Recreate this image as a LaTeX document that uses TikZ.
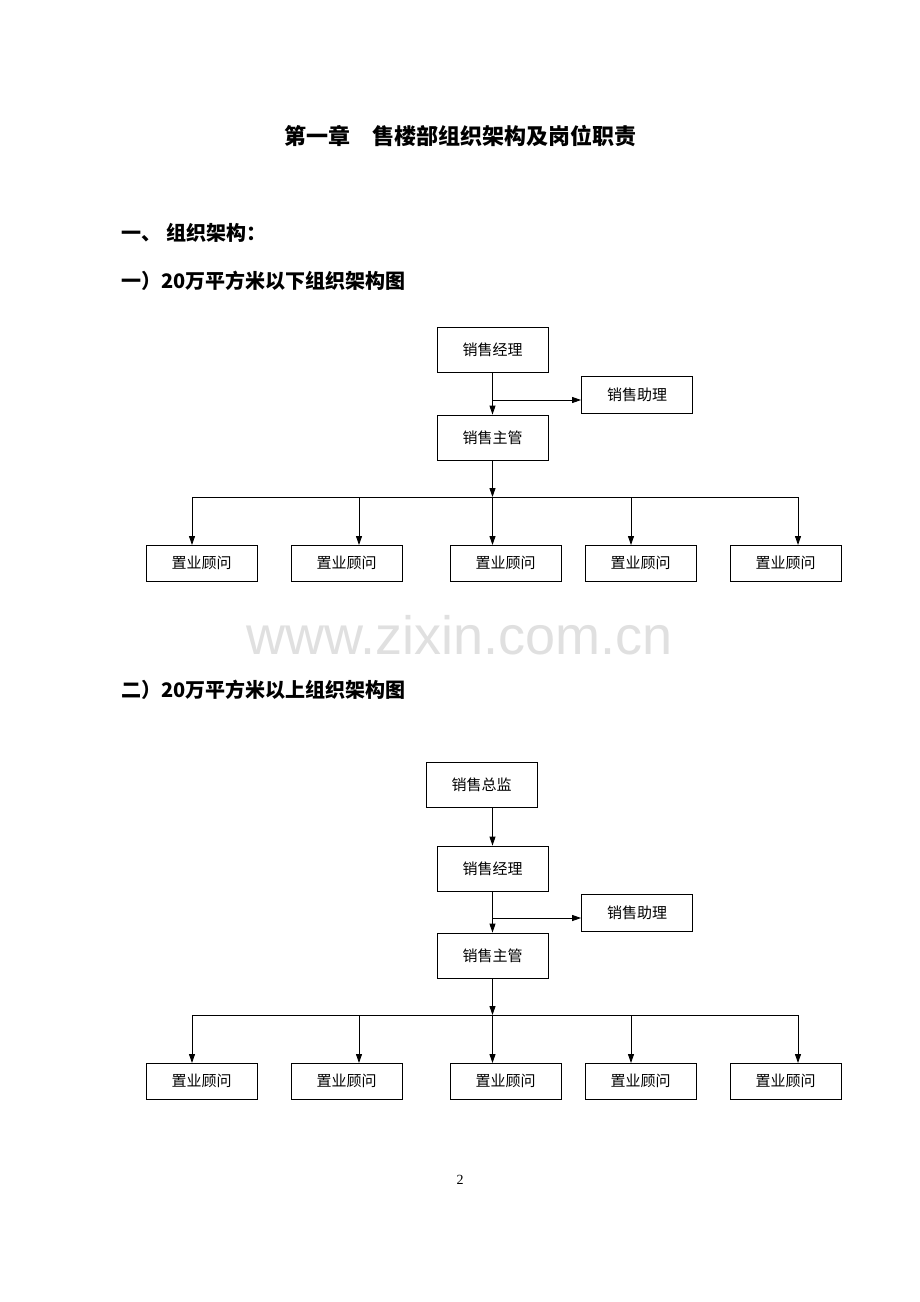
\documentclass[tikz,border=0pt]{standalone}
\usepackage{fontspec}
\setmainfont{Liberation Serif}
\newfontfamily\cjk{Noto Sans CJK SC}
\usetikzlibrary{arrows.meta}
\begin{document}
\begin{tikzpicture}[x=1pt,y=-1pt,
 box/.style={draw,line width=0.8pt,minimum width=111pt,minimum height=#1,inner sep=0pt,font=\cjk\fontsize{15}{15}\selectfont},
 box/.default=45pt,
 ar/.style={-{Triangle[length=9pt,width=6pt]},line width=0.9pt},
 ln/.style={line width=0.9pt},
 hd/.style={anchor=west,font=\cjk\bfseries\fontsize{20}{20}\selectfont}]
\fill[white] (0,0) rectangle (920,1302);
\useasboundingbox (0,0) rectangle (920,1302);
\node[font=\cjk\bfseries\fontsize{22}{22}\selectfont] (title) at (460,136) {第一章\quad 售楼部组织架构及岗位职责};
\node[hd] (h1) at (118,233) {一、\ 组织架构：};
\node[hd] (h2) at (118,281) {一）20万平方米以下组织架构图};
% chart 1
\node[box] (m1) at (492.5,350) {销售经理};
\node[box=37pt] (a1) at (637,394.5) {销售助理};
\node[box] (s1) at (492.5,437.5) {销售主管};
\coordinate (j1) at (492.5,400);
\draw[ar] (m1.south) -- (s1.north);
\draw[ar] (j1) -- (j1 -| a1.west);
\coordinate (b1) at (492.5,497);
\draw[ar] (s1.south) -- (b1);
\draw[ln] (192,497) coordinate (bl1) -- (798,497) coordinate (br1);
\foreach \x/\n in {201.5/p1,346.5/p2,505.5/p3,640.5/p4,785.5/p5}{
 \node[box=36pt] (\n) at (\x,563) {置业顾问};}
\foreach \x/\n in {192/p1,359/p2,492.5/p3,631/p4,798/p5}{
 \coordinate (t\n) at (\x,497);
 \draw[ar] (t\n) -- (\x,545);}
\node[font=\fontspec{Liberation Sans}\fontsize{54}{54}\selectfont,text=black!12] (wm) at (460,635) {www.zixin.com.cn};
\node[hd] (h3) at (118,690) {二）20万平方米以上组织架构图};
% chart 2
\node[box] (d2) at (481.5,784.5) {销售总监};
\node[box] (m2) at (492.5,868.5) {销售经理};
\node[box=37pt] (a2) at (637,912.5) {销售助理};
\node[box] (s2) at (492.5,955.5) {销售主管};
\draw[ar] (492.5,807) -- (m2.north);
\coordinate (j2) at (492.5,918);
\draw[ar] (m2.south) -- (s2.north);
\draw[ar] (j2) -- (j2 -| a2.west);
\coordinate (b2) at (492.5,1015);
\draw[ar] (s2.south) -- (b2);
\draw[ln] (192,1015) -- (798,1015);
\foreach \x/\n in {201.5/q1,346.5/q2,505.5/q3,640.5/q4,785.5/q5}{
 \node[box=36pt] (\n) at (\x,1081) {置业顾问};}
\foreach \x/\n in {192/q1,359/q2,492.5/q3,631/q4,798/q5}{
 \coordinate (t\n) at (\x,1015);
 \draw[ar] (t\n) -- (\x,1063);}
\node[font=\fontsize{14}{14}\selectfont] (pg) at (460,1180) {2};
\end{tikzpicture}
\end{document}
